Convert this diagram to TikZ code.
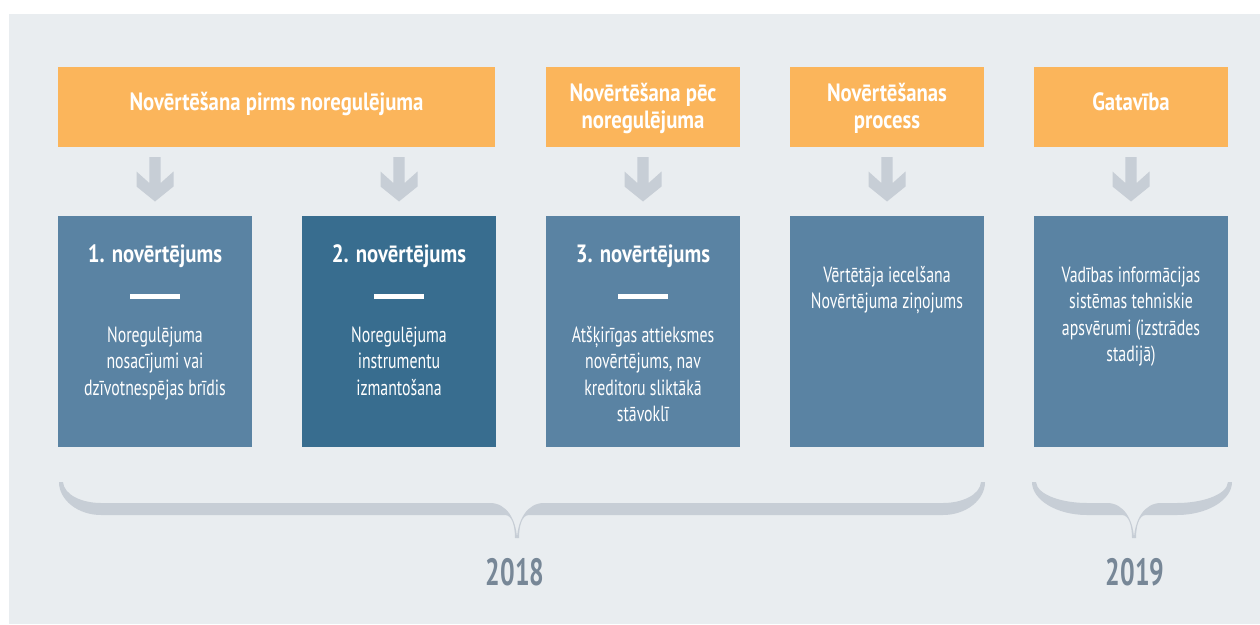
\documentclass[tikz,border=0pt]{standalone}
\usepackage{fontspec}
\setmainfont{PT Sans}
\newfontfamily\headf{PT Sans}[FakeStretch=0.83]
\newfontfamily\bodyf{PT Sans}[FakeStretch=0.72]
\newfontfamily\yearf{PT Sans}[FakeStretch=0.68]
\definecolor{bgc}{HTML}{E9EDF0}
\definecolor{orangec}{HTML}{FBB55B}
\definecolor{bluec}{HTML}{5A83A3}
\definecolor{darkc}{HTML}{386D8F}
\definecolor{greyc}{HTML}{C7CED6}
\definecolor{yearc}{HTML}{778797}
\newcommand\mybrace[4]{%
  % #1 left x, #2 centre x, #3 right x, #4 hook width
  \fill[greyc] (#1,482) .. controls (#1,500) and ({#1+#4*0.45},515) .. ({#1+#4},515)
    -- ({#2-12},515) .. controls ({#2-5},515) and ({#2-2},526) .. ({#2-2},538)
    -- (#2,538) .. controls ({#2-1},520) and ({#2-10},503) .. ({#2-27},503)
    -- ({#1+#4},503) .. controls ({#1+#4*0.55},503) and ({#1+5},495) .. ({#1+4},482) -- cycle;
  \fill[greyc] (#3,482) .. controls (#3,500) and ({#3-#4*0.45},515) .. ({#3-#4},515)
    -- ({#2+12},515) .. controls ({#2+5},515) and ({#2+2},526) .. ({#2+2},538)
    -- (#2,538) .. controls ({#2+1},520) and ({#2+10},503) .. ({#2+27},503)
    -- ({#3-#4},503) .. controls ({#3-#4*0.55},503) and ({#3-5},495) .. ({#3-4},482) -- cycle;
}
\tikzset{
  hbox/.style={rectangle, fill=orangec, inner sep=0pt, minimum height=80pt},
  bbox/.style={rectangle, fill=bluec, inner sep=0pt, minimum width=194pt, minimum height=231pt},
  htxt/.style={text=white, inner sep=0pt, align=center, font={\headf\bfseries\fontsize{25}{27}\selectfont}},
  ttl/.style={text=white, inner sep=0pt, align=center, font={\headf\bfseries\fontsize{25}{27}\selectfont}},
  body/.style={text=white, inner sep=0pt, align=center, font={\bodyf\fontsize{22}{26.5}\selectfont}},
  dashbar/.style={rectangle, fill=white, inner sep=0pt, minimum width=50pt, minimum height=5pt},
  yeartxt/.style={text=yearc, inner sep=0pt, font={\yearf\bfseries\fontsize{38}{40}\selectfont}},
  downarrow/.pic={\fill[greyc] (-5.7,0) -- (5.7,0) -- (5.7,26) -- (18.5,14.5) -- (18.5,29.5)
      -- (0,44.5) -- (-18.5,29.5) -- (-18.5,14.5) -- (-5.7,26) -- cycle;}
}
\begin{document}
\begin{tikzpicture}[x=1pt,y=-1pt]
\useasboundingbox (0,0) rectangle (1260,624);
\fill[white] (0,0) rectangle (1260,624);
\fill[bgc] (9,14) rectangle (1260,624);
% headers
\node[hbox, minimum width=437pt] (h1) at (276.5,107) {};
\node[hbox, minimum width=194pt] (h2) at (643,107) {};
\node[hbox, minimum width=194pt] (h3) at (887,107) {};
\node[hbox, minimum width=194pt] (h4) at (1131,107) {};
% base anchor of a multi-line node = baseline of its last line
\node[htxt, anchor=base] (ht1) at (276.5,110) {Novērtēšana pirms noregulējuma};
\node[htxt, anchor=base] (ht2) at (643,128) {Novērtēšana pēc\\noregulējuma};
\node[htxt, anchor=base] (ht3) at (887,128) {Novērtēšanas\\process};
\node[htxt, anchor=base] (ht4) at (1131,110) {Gatavība};
% boxes
\node[bbox] (b1) at (155,331.5) {};
\node[bbox, fill=darkc] (b2) at (399,331.5) {};
\node[bbox] (b3) at (643,331.5) {};
\node[bbox] (b4) at (887,331.5) {};
\node[bbox] (b5) at (1131,331.5) {};
% arrows
\pic at (b1.north |- 0,157) {downarrow};
\pic at (b2.north |- 0,157) {downarrow};
\pic at (b3.north |- 0,157) {downarrow};
\pic at (b4.north |- 0,157) {downarrow};
\pic at (b5.north |- 0,157) {downarrow};
% titles
\node[ttl, anchor=base] (t1) at (155,262) {1. novērtējums};
\node[ttl, anchor=base] (t2) at (399,262) {2. novērtējums};
\node[ttl, anchor=base] (t3) at (643,262) {3. novērtējums};
\node[dashbar] (d1) at (155,296.5) {};
\node[dashbar] (d2) at (399,296.5) {};
\node[dashbar] (d3) at (643,296.5) {};
\node[body, anchor=base] (x1) at (155,395) {Noregulējuma\\nosacījumi vai\\dzīvotnespējas brīdis};
\node[body, anchor=base] (x2) at (399,395) {Noregulējuma\\instrumentu\\izmantošana};
\node[body, anchor=base] (x3) at (643,421.5) {Atšķirīgas attieksmes\\novērtējums, nav\\kreditoru sliktākā\\stāvoklī};
\node[body, anchor=base] (x4) at (887,308.5) {Vērtētāja iecelšana\\Novērtējuma ziņojums};
\node[body, anchor=base] (x5) at (1131,361.5) {Vadības informācijas\\sistēmas tehniskie\\apsvērumi (izstrādes\\stadijā)};
% braces
\mybrace{59}{517}{985}{42}
\mybrace{1032}{1134}{1232}{55}
\node[yeartxt, anchor=base] (y1) at (515,585) {2018};
\node[yeartxt, anchor=base] (y2) at (1135,585) {2019};
\end{tikzpicture}
\end{document}
